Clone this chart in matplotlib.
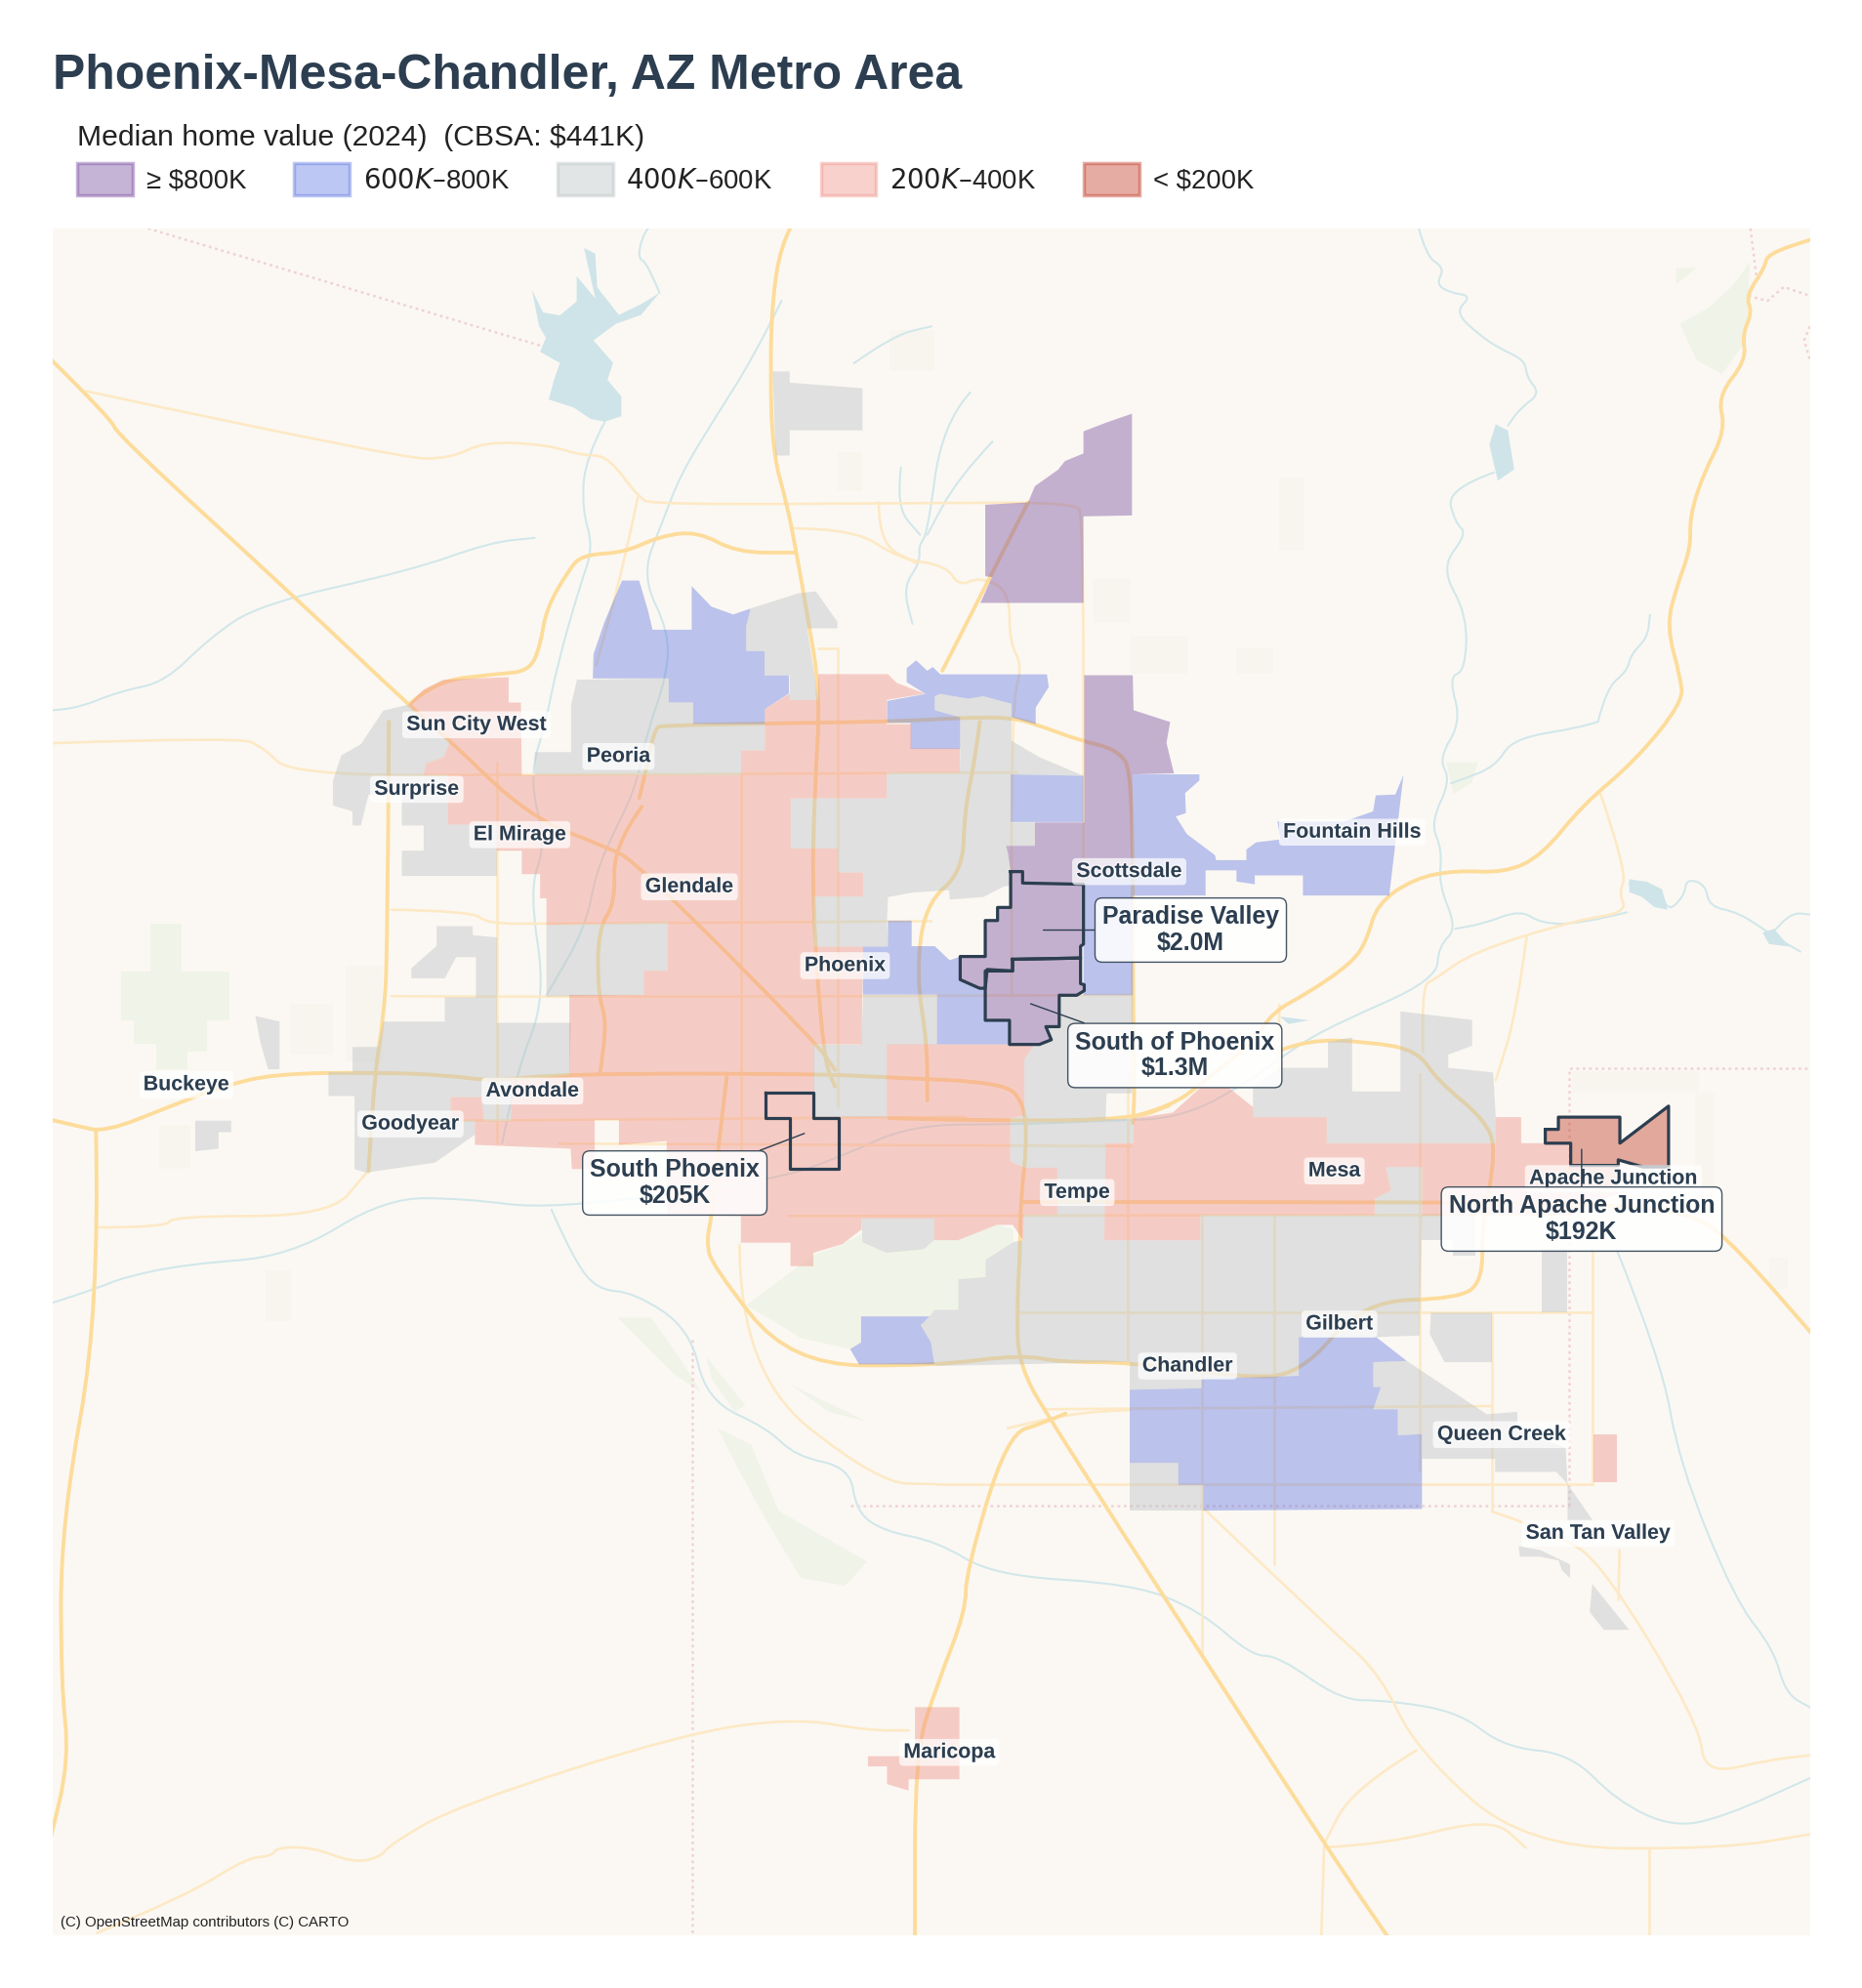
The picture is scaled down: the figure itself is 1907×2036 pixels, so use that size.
import matplotlib
matplotlib.use("Agg")
import matplotlib.pyplot as plt
from matplotlib.patches import Patch, PathPatch
from matplotlib.path import Path
import matplotlib.patheffects as pe

plt.rcParams['font.family'] = ['Liberation Sans', 'DejaVu Sans']

TITLE = "Phoenix-Mesa-Chandler, AZ Metro Area"
LEGEND_TITLE = "Median home value (2024)  (CBSA: $441K)"
CLASS_LABELS = ["≥ $800K", "$600K–$800K", "$400K–$600K", "$200K–$400K", "< $200K"]
CLASS_COLORS = ["#71449B", "#5B73E1", "#B7BEC1", "#EE8C82", "#BF301A"]
INK = "#2C3E50"
BG = "#FBF8F3"

PURPLE = [
    [(775.3,397.4),(809,395.5),(814.4,382.7),(832.6,369.8),(838,363),(852.6,357),(852.6,339.6),(871.7,332.3),(890.8,325.7),(890.8,405.8),(852.6,406.5),(852.6,474.6),(771.5,474.6),(780.6,454.3),(775.3,453.6)],
    [(853.2,531.5),(891.4,531.5),(892,559),(920.8,568.3),(917.9,584.8),(923.8,608.7),(891.4,609.5),(891.4,686),(862,686),(852.6,696),(804.7,695),(804.7,686),(795.3,686),(793,671),(791.5,665.7),(814.4,665.7),(814.4,647.3),(853.2,647.3)],
]
PARADISE_VALLEY = [(795.3,686),(804.7,686),(804.7,695),(852.6,696),(852.6,743),(850.3,744.8),(850.3,754),(796.8,755),(796.8,764.2),(776.8,763),(775.3,777.8),(770.9,777.8),(755.6,771),(755.6,752.8),(775.3,752.8),(775.3,724.5),(785,724.5),(785,714.2),(795.3,714.2)]
SOUTH_OF_PHOENIX = [(796.8,755),(850.3,754),(850.3,774.2),(853.2,775),(853.2,779.7),(847.3,783.3),(833.5,783.3),(833.5,808),(823,808),(827.3,818.3),(817.9,822),(794.4,822),(794.4,803),(775.3,803),(775.3,764.2),(796.8,764.2)]
SOUTH_PHOENIX = [(602,860),(640.4,860),(640.4,879.5),(660,879.5),(660,920),(621.5,920),(621.5,879.5),(602,879.5)]
NORTH_APACHE = [(1216,888.8),(1226.3,888.8),(1226.3,879.2),(1274.7,879.2),(1274.7,899.7),(1313,870.5),(1313,918.4),(1293,918.4),(1273.4,912.8),(1273.4,917.2),(1236,917.2),(1236,899.7),(1216,899.7)]

BLUE = [
    [(489.5,457),(503,457),(510,481),(513.5,495.7),(544.3,495.7),(544.3,461.4),(559.8,477.5),(577,483.7),(590.7,479),(587.2,493),(587.2,512.5),(601.6,512.5),(601.6,531.7),(620.8,531.7),(620.8,546),(602,558),(602,570),(545.4,570),(545.4,553),(526.2,553),(526.2,534),(466.5,534),(467,515),(475.7,489.5)],
    [(713.5,526),(720.9,519.8),(729.7,528),(734,525),(740,530.8),(823.8,530.8),(825.3,540.7),(815,557),(815,570),(795.9,564.6),(795.9,554),(773.8,548),(762,550),(740,546.2),(735.6,548),(735.6,559),(755.6,564.6),(755.6,589.6),(716.5,589.6),(716.5,569),(698,569),(698,551.8),(728.3,546.2),(713.5,537)],
    [(795.3,609.5),(852.6,610.6),(852.6,647),(795.3,647)],
    [(891.4,609.5),(943.8,609.5),(943.8,614.3),(932.6,624.2),(933.2,640),(925.2,642.6),(934,656.5),(956,673),(957,677),(980.8,677),(980.8,668.6),(988.4,663),(1007.6,660.7),(1005.2,646.6),(1057.7,646.6),(1080.5,638.6),(1082.6,626),(1098,625.4),(1104.4,610),(1093.2,704.8),(1025.3,704.8),(1025.3,689),(987.4,689),(987.4,696),(973,693.8),(973,685),(948.7,685),(948.7,704.8),(891.4,705),(891.4,783.3),(852.6,783.3),(852.6,696),(862,686),(891.4,686)],
    [(679,745),(698.7,745),(698.7,724.6),(717.4,724.6),(717.4,744.7),(735.6,744.7),(747.4,755.8),(755.6,752.8),(755.6,771),(775.3,778),(775.3,803),(794.4,803),(794.4,822),(737.4,822),(737.4,782.8),(679,782.8)],
    [(677.6,1036),(731.5,1036),(724.5,1042.8),(732.6,1056.5),(735.3,1073.7),(676,1073.7),(669,1061.7),(677.6,1056.5)],
    [(1022,1052.3),(1083,1052.3),(1107,1071),(1080.7,1072),(1080.7,1091.5),(1086.7,1091.5),(1080.7,1109),(1100,1109),(1100,1129.5),(1119,1128.6),(1119,1187.5),(947,1188.8),(947,1168.7),(927.3,1168.7),(927.3,1151.2),(889,1151.2),(889,1093.7),(945.6,1092.5),(945.6,1085),(1022,1082.7)],
]

GRAY = [
    [(608,292.5),(621.4,292.5),(621.4,301.3),(678.7,305.7),(678.7,338.8),(621.4,338.8),(621.4,358.6),(610.4,358.6)],
    [(590.7,479),(628.4,467),(642,465.5),(659,489.5),(659,494.6),(635.2,494.6),(643.8,551),(621.5,551),(621.5,531.7),(601.6,531.7),(601.6,512.5),(587.2,512.5),(587.2,493)],
    [(454,535),(526.2,534),(526.2,553),(545.4,553),(545.4,570),(602,570),(602,590.7),(583.1,590.7),(583.1,610),(420.8,610),(420.8,592),(449.4,592),(449.4,555)],
    [(321.4,554.7),(344,577),(354,584),(349,596),(335,601),(333.4,610),(352.6,610),(352.6,649),(391,649),(391,689.4),(316.2,689.4),(316.2,669.5),(333.4,669.5),(333.4,649.7),(316.2,649.7),(316.2,625.4),(290,625.4),(284,649.7),(277.4,649.7),(277.4,638.6),(262,634),(262,614.4),(268.6,594.5),(284,585.7),(301.7,559.3)],
    [(622.2,628.4),(697.7,628.4),(697.7,608),(755.3,608),(755.6,589.6),(755.6,564.6),(735.6,559),(735.6,548),(740,546.2),(762,550),(773.8,548),(795.9,554),(795.9,564.6),(795.9,583),(818,596),(852.6,610.6),(795.3,609.5),(795.3,647.3),(814.4,647.3),(814.4,665.7),(791.5,665.7),(793,671),(795.3,686),(795.3,697),(790,697.7),(773.8,706),(747.4,708),(746.8,700.6),(718,702.5),(698.8,706),(698,724.6),(698.7,745),(640.4,745),(640.4,705.6),(679.1,705.6),(679.1,686.7),(659.3,686.7),(659.3,667.8),(622.2,667.8)],
    [(679,782.8),(737.4,782.8),(737.4,822),(697.7,822),(697.7,878.8),(640.4,878.8),(640.4,822),(678,822)],
    [(430,727.9),(525.5,726),(525.5,764),(506.6,764),(506.6,783),(430,784.4)],
    [(343.6,729),(372,729),(372,736),(391.2,737.8),(391.2,785),(374.5,785),(374.5,753.3),(359,753.3),(350,770),(323.7,770),(323.7,762),(343.6,744.5)],
    [(350,785),(391,785),(391,805),(449.4,805),(448,846),(402,851),(402,882),(381,882),(379,863.5),(354.5,863.5),(354.5,882),(373.7,882),(373.7,893),(342.3,915),(288,922.8),(279,920.2),(279,862.6),(258.5,862.6),(258.5,843.7),(277.4,843.7),(277.4,824),(297.3,824),(301.7,804),(350,804)],
    [(153.6,882),(181.9,882),(181.9,891),(172,891),(172,904),(153.6,906)],
    [(201,799.6),(220,804),(220,841.5),(211,841.5),(204.7,819.5)],
    [(806,834),(813.9,822),(817.9,822),(827.3,818.3),(823,808),(833.5,808),(833.5,783.3),(891.4,783.3),(890.8,860.5),(870.8,860.5),(870,880.6),(892,880.6),(892,899.7),(870,899.7),(869,976),(944.6,976),(944.6,956.3),(1081.7,956.3),(1081.7,943.3),(1094.6,936.8),(1090.6,918.4),(1119,918.4),(1119,956.3),(1117,1051),(1083,1052.3),(1022,1052.3),(1022,1082.7),(945.6,1085),(945.6,1092.5),(889,1093.7),(889,1071.7),(737.6,1075),(735.3,1073.7),(732.6,1056.5),(724.5,1042.8),(731.5,1036),(735.5,1030.8),(754.2,1030.8),(754.2,1006.8),(775.7,1005),(775.7,991.4),(797.3,977.6),(805,976),(806,956),(832,956),(832,919),(806,919),(795,914),(795,880),(806,878)],
    [(986,879.2),(986,856),(1007.5,840.4),(1045,840.4),(1045,820),(1064,816.4),(1064,859),(1102,859),(1102,796),(1158.4,802.7),(1158.4,823),(1139.6,830),(1139.6,840.4),(1175,844),(1177,879.2),(1177,899.7),(1044,899.7),(1044,879.2)],
    [(1119,956.3),(1161,956.3),(1161,988.5),(1143,988.5),(1143,975.6),(1119,975.6)],
    [(1213,983),(1233,983),(1233,1033),(1213,1033)],
    [(1126,1033),(1174,1033),(1174,1072),(1136.7,1072),(1125.2,1050)],
    [(1107,1071),(1170,1113),(1194,1111),(1194,1125),(1232,1139.4),(1233.5,1167.8),(1253.5,1196.6),(1233.5,1196.6),(1233.5,1167.8),(1224.7,1158.3),(1176.5,1158.3),(1176.5,1148),(1119,1148),(1119,1128.6),(1100,1129.5),(1100,1109),(1080.7,1109),(1086.7,1091.5),(1080.7,1091.5),(1080.7,1072)],
    [(889,1151.2),(927.3,1151.2),(927.3,1168.7),(947,1168.7),(947,1188.8),(889,1188.8)],
    [(1195,1216.7),(1212.5,1220),(1235.5,1231),(1235.5,1242),(1229,1235.5),(1226.5,1228),(1211.7,1225),(1196,1225)],
    [(1253,1246.5),(1282,1282.6),(1262,1282.6),(1251,1268.4)],
    [(678,959),(735,959),(735,976),(727,983),(697.6,986),(678.7,977.6)],
]

PINK = [
    [(321.4,554.7),(333.4,542.7),(348.8,535),(400.3,533),(400.3,553),(409.9,553),(410.6,610),(583.1,610),(583.1,590.7),(602,590.7),(602,558),(621.5,546),(621.5,551),(643.8,551),(643.8,530.6),(698.7,530.6),(705.6,537.5),(727.9,546),(697.7,551),(697.7,570),(716.9,570),(716.9,589),(755.3,589),(755.3,608),(697.7,608),(697.7,628.4),(622.2,628.4),(622.2,667.8),(659.3,667.8),(659.3,686.7),(679.1,686.7),(679.1,705.6),(640.4,705.6),(640.4,745),(679.1,745),(678,822),(640.4,822),(640.4,878.8),(697.7,878.8),(697.7,822),(813.9,822),(806,834),(806,878),(795,880),(795,914),(806,919),(832,919),(832,956),(806,956),(805,976),(797,964),(784,964),(754,976),(735,976),(735,959),(678,959),(678,967.5),(663,979),(640,986),(640,996.5),(622,996.5),(622,978),(583,978),(583,957),(525,956),(524.6,898),(487,901),(487,881.4),(468,881.4),(468,920),(450,920),(449,904),(373.7,901),(373.7,882),(354.5,882),(354.5,863.5),(379,863.5),(381,882),(402,882),(402,851),(448,846),(448,783),(506.6,783),(506.6,764),(525.5,764),(525.5,726),(430,727.9),(430,707),(425,707),(425,688),(410.6,688),(410.6,669.6),(391,669.6),(391,649),(352.6,649),(352.6,610),(333.4,610),(335,601),(349,596),(354,584),(344,577)],
    [(870,899.7),(892,899.7),(892,880),(922.7,875.7),(944.6,856),(967,856),(986,871.3),(986,879.2),(1044,879.2),(1044,899.7),(1177,899.7),(1177,879.2),(1197,879.2),(1197,899.7),(1236,899.7),(1236,917.2),(1273.4,917.2),(1273.4,939),(1236,956.3),(1119,956.3),(1119,918.4),(1090.6,918.4),(1094.6,936.8),(1081.7,943.3),(1081.7,956.3),(944.6,956.3),(944.6,976),(869,976)],
    [(720,1343.4),(755,1343.4),(755,1400.2),(715,1400.2),(715,1409),(698,1404),(698,1390),(683,1390),(683,1382),(720,1382)],
    [(1253.6,1129),(1272.6,1129),(1272.6,1166.8),(1253.6,1166.8)],
]

RED = [NORTH_APACHE]

LAKES = [
    [(418.6,228.5),(427.4,246),(440.6,248.4),(453.8,237.3),(453.8,217.5),(468.4,235),(459.6,195.4),(468.4,199.8),(470,226.3),(480.3,239.5),(487,248),(504.5,239.5),(519,230.7),(504.5,248),(484.7,255),(467,268),(482.5,285.8),(478,299),(489,312.3),(489,327.7),(476,332),(465,330),(451.6,321),(431.8,314.5),(436,299),(440.6,285.8),(425,277),(429.6,266),(424.3,257)],
    [(1177,334),(1186.6,339),(1191.6,369.6),(1178.6,378.5),(1172,350)],
    [(1282,692),(1296,694),(1308,700),(1312,716),(1302,714),(1292,706),(1282,702)],
    [(1387,734),(1396,731),(1408,745),(1392,743)],
    [(1007,800),(1030,803),(1014,806)],
]

GREEN = [
    [(118.7,726.8),(143,726.8),(143,764.3),(180.4,764.3),(180.4,802.7),(162.8,802.7),(162.8,827.4),(147.3,827.4),(147.3,841.5),(123,841.5),(123,821.7),(105.4,821.7),(105.4,802.7),(95.3,802.7),(95.3,764.3),(118.7,764.3)],
    [(640,988),(662.5,979.3),(678.7,970.8),(678.7,977.6),(697.6,986.2),(727.2,982.8),(735.3,976),(754.2,976),(783.8,964),(797.3,967.3),(797.3,977.6),(775.7,991.4),(775.7,1005),(754.2,1006.8),(754.2,1030.8),(735.3,1030.8),(731.5,1036),(677.6,1036),(677.6,1056.5),(669,1061.7),(630,1053),(608.6,1039.4),(587,1027.4)],
    [(1322,255),(1345,242),(1364.5,224),(1377,206),(1374,268),(1355,294.7),(1335,283.6)],
    [(1319,211),(1335,211),(1319,224)],
    [(486,1037),(512.4,1037),(534.4,1068),(551.6,1095.5),(530,1081)],
    [(564.7,1124),(591,1137),(612.7,1189),(682.4,1229),(665,1248),(630,1241.6),(604,1198),(582,1158)],
    [(556,1068),(586.5,1106),(578,1111),(560,1085)],
    [(621.4,1089),(682.4,1119),(652,1111)],
    [(1138,600),(1163,600),(1158,616),(1144,625)],
]

BEIGE = [
    [(1006.8,376),(1026.3,376),(1026.3,433.6),(1006.8,433.6)],
    [(972.5,510.7),(1002,510.7),(1002,530.6),(972.5,530.6)],
    [(659,356),(678.7,356),(678.7,387),(659,387)],
    [(700,260),(735,260),(735,292),(700,292)],
    [(209,1000),(229,1000),(229,1040),(209,1040)],
    [(1334,860),(1349,860),(1349,960),(1334,960)],
    [(1237,843),(1337,843),(1337,860),(1237,860)],
    [(1392,990),(1407,990),(1407,1014),(1392,1014)],
    [(272,760),(301,760),(301,835),(272,835)],
    [(228,790),(262,790),(262,830),(228,830)],
    [(890,500),(935,500),(935,530),(890,530)],
    [(860,455),(890,455),(890,490),(860,490)],
    [(125,885),(150,885),(150,920),(125,920)],
]

MAJOR_ROADS = [
    [(622.7,178),(614.8,193),(608,233),(606,290),(608,356),(619,396),(626,431),(634.6,480),(645.7,546),(641,621),(639,709),(648,833),(657,855)],
    [(39,282),(87.8,330),(92,342),(231,469),(321.5,555),(350,579),(416.4,643),(478,667),(500,678),(641.3,819.5),(657,842)],
    [(321.5,555),(341.4,536.3),(389.9,530.6),(416.4,528.4),(425.2,508.5),(429.6,479.9),(447.2,449),(458.2,436.7),(491.3,435),(517.8,422.6),(548.7,418),(579.5,435),(625.8,435)],
    [(306,568),(305,753),(301.7,802),(295,844),(290,922)],
    [(39,881),(60,886),(83,891),(133,871),(175,855),(216,845),(295,844),(350,846),(388,851),(443,845),(640,845),(700,848),(790,852),(806,868),(808,900),(803,947),(803,977),(800,1036),(802,1074),(824.5,1115.4),(1042,1451),(1092,1524)],
    [(503,628),(506.6,615),(515,573),(522,571),(608,569.4),(697,568),(729.7,566.5),(768,564.6),(796,565),(815,570),(850,583),(879.7,590),(891.4,608.7),(891.4,783),(893,858.7),(891.4,883.7)],
    [(505,635),(482.6,666),(484.3,710.7),(470.6,731),(470.6,783),(477.5,803.3),(472.3,844.5)],
    [(771,568),(768,594),(759,638),(757.6,686),(728,711.7),(721,767),(729.7,822),(729.7,866)],
    [(894,878),(921,871),(948,851),(986,820),(1002,796),(1028.6,782),(1064,757.7),(1075.6,740),(1083.5,711.4),(1112.5,691.6),(1145,685),(1183.5,687),(1212.7,674),(1245,634),(1286.6,599),(1324.3,552.6),(1322.3,533),(1311.4,493),(1319.3,462),(1330.6,431),(1329.6,407),(1340,374),(1358,338.8),(1351.6,312),(1374.2,283.6),(1371,263.8),(1378.8,246),(1373.8,233),(1388.7,211),(1390.6,200),(1427,188)],
    [(804,946),(1181,946),(1255,947.6),(1334,954.2),(1369,984.6),(1427,1051)],
    [(700,880),(795,882.6),(893,880.4),(920,870)],
    [(1007.5,826.7),(1029,818),(1077.6,820),(1115.3,826.7),(1131.5,850.7),(1169,881.6),(1177.3,905.6),(1166.5,964),(1166.5,1008.5),(1147.6,1022),(1072,1024),(1023.7,1082),(975.2,1084),(889,1072),(835,1072),(802.7,1066),(735,1075),(622,1074),(560,995.6),(556,976),(560,958),(565,905),(572,847)],
    [(75.5,891),(78.6,1031),(48,1199),(48,1325),(54.6,1384.6),(39,1450)],
    [(838.5,1112.4),(821,1120),(792.6,1128.6),(760,1237.5),(760,1267.6),(737.6,1325),(720,1380),(720,1526)],
    [(809,395.5),(741.5,528)],
]

MINOR_ROADS = [
    [(68,308),(315,361),(354.6,361),(381,347.6),(429.6,350),(458,358.6),(478,358.6),(502,391),(513.4,397.4),(733,396),(845.8,395.5),(852.6,406.5),(852.6,675)],
    [(502,391),(491,444.6),(469,524)],
    [(39,585),(187,580),(207,588),(229,610),(420.8,610),(800,608)],
    [(308,716),(372,717),(383,727),(430,727),(733,725)],
    [(308,784),(449.4,785),(890,783)],
    [(391,600),(391,900)],
    [(583,610),(583,950)],
    [(659,510.7),(659,871)],
    [(643.5,510.7),(659,510.7)],
    [(760,879),(355,882)],
    [(440,900),(890,902)],
    [(620,957),(1236,956)],
    [(802,1032.7),(1117,1032.7)],
    [(824,1109),(1174,1106.5)],
    [(737.6,1168),(1253.5,1168)],
    [(887.6,845),(887.6,1073)],
    [(945.6,956),(945.6,1303)],
    [(1003,956),(1003,1231)],
    [(1117,845),(1117,1157)],
    [(1174,1033),(1174,1189.5)],
    [(1253.5,983),(1253.5,1168)],
    [(1117,1032.7),(1253.5,1032.7)],
    [(1174,1189.5),(1227,1207),(1262.5,1233),(1337,1356.5),(1341.5,1396.5),(1391,1385),(1427,1381)],
    [(945,1185),(1046.3,1281.7),(1085.7,1316.5),(1114.6,1377.4),(1200.7,1454),(1355,1455),(1427,1443)],
    [(1114.6,1377.4),(1064,1408),(1042,1451)],
    [(1042,1453.7),(1090.7,1451.5),(1174,1430),(1200.7,1454)],
    [(1042,1453),(1039.7,1525)],
    [(1298,1454),(1298,1525)],
    [(1274.5,1220),(1273.5,1259)],
    [(793,1124),(838.5,1112.5),(889,1109.5)],
    [(76.4,1521),(146,1492.3),(194,1462),(213.7,1460.7),(218,1453.7),(246.4,1453.7),(277,1465.6),(298.7,1462),(307.5,1451),(360,1420.8),(538.5,1364),(625.7,1351.8),(682.4,1361.7),(715,1361.7)],
    [(76,966),(131,966),(135.3,957),(259.5,957),(288,923.5)],
    [(582,979.5),(582,1080),(691,1167),(737,1168)],
    [(1259.5,625),(1280.7,687),(1273.7,702.6),(1280.7,718),(1238.6,724.6),(1159.4,749),(1128.7,771),(1119.7,775),(1119.7,828)],
    [(1201.4,736.5),(1193.5,797.4),(1177,850)],
    [(1006.8,790.8),(1006,842)],
    [(623.6,416),(672,416),(707.4,440),(744.4,445),(754.7,461.7),(771,454),(794.4,465),(794.4,506),(804.7,524),(796,553.6),(796,784)],
    [(691.5,395.5),(691.5,428),(721,443.3)],
]

RIVERS = [
    [(476,332),(460.5,361),(458,400.5),(467,431),(456,462),(438.4,524),(429.6,568),(416.4,612),(429.6,665),(416.4,700),(429.6,784),(407.5,841.5),(395,900)],
    [(615,237),(593,281.4),(562,330),(535.4,374),(522,409),(504.6,453),(526.6,497.5),(524.4,533),(509,577),(500,621),(482.5,656),(469,687),(460.5,731),(429.6,784)],
    [(39,559),(57,559),(94.4,544),(129.7,537),(165,502),(204.7,475.5),(323.7,449),(385.5,427),(420.8,423.4)],
    [(672,286),(703,264),(733,257)],
    [(763.5,309),(741.5,333),(729.7,421),(723,429),(724,443),(710.6,462),(718,491)],
    [(781,347.7),(753,377.2),(729.7,421)],
    [(709,368),(705,399),(724,421)],
    [(519,230.7),(509,206.5),(502.3,204),(504.5,188.8),(511,178)],
    [(1116,178),(1122,202),(1137,211),(1130,224),(1141.7,230.7),(1158,233),(1145,246),(1164,263.8),(1180.6,274.8),(1200,283.6),(1201.4,297),(1212,310),(1196.6,321),(1186.6,335)],
    [(1175.7,372),(1138.4,385),(1145,411.5),(1154.6,420),(1133.6,447),(1154.6,484),(1153,528),(1140,533),(1150,568),(1132,597),(1141.7,614.4),(1125.6,647.5),(1135,669.5),(1132,696),(1146.6,731),(1132,744.5),(1130.4,771),(1051,806),(1019,824),(985,850),(930,880),(870,882),(800,885),(717,885),(660.6,911),(608.3,929),(434,952),(364,943),(303,943),(229,988.6),(146,995),(98,1005),(76,1014),(39,1026)],
    [(434,952),(449,986.5),(469,1015),(499,1017),(543,1046),(556,1102),(604,1124),(626,1146),(669,1155),(673.7,1189.5),(695.5,1205),(737.6,1213),(782,1240),(892,1246.4),(945,1268),(984.7,1303),(1006,1303),(1055,1338),(1090.7,1338),(1147.7,1347),(1183.6,1375),(1236,1380),(1272,1417),(1316,1438),(1356,1430),(1427,1398)],
    [(1272,983),(1307.6,1071),(1321,1150),(1365,1259),(1396,1298),(1405,1333),(1427,1345)],
    [(1282,696),(1306,698),(1312.6,718),(1325.6,704.6),(1327,691.6),(1342,696),(1345,713.6),(1368,718),(1394,735.7),(1416.7,749)],
    [(1394,735.7),(1407,718),(1427,720)],
    [(1280.3,718),(1244.6,727),(1212.7,727),(1196.5,716),(1167.5,727),(1145,731)],
    [(1257.5,568),(1245,572.5),(1190,581.3),(1177,603.4),(1148,614.4),(1141.7,616.6)],
    [(1257.5,568),(1264,541.6),(1280.4,528.4),(1283.4,515),(1296.4,502),(1298.4,484)],
]

BOUNDARIES = [
    [(116.5,180),(434,274.8)],
    [(545,1054),(545,1525)],
    [(669,1185),(1234.5,1185)],
    [(1234.5,1185),(1234.5,841),(1425,841)],
    [(1377.5,180),(1382.3,219.7),(1375.8,233),(1390.8,237),(1403.7,226),(1424.3,233)],
    [(1424.3,257),(1419.7,268),(1424.3,283.6)],
]

CITIES = [
    ("Sun City West",375,570.5),("Peoria",486.7,595.4),("Surprise",328,621.3),("El Mirage",409,657),
    ("Glendale",542.5,698),("Scottsdale",888.6,686),("Fountain Hills",1064,655),("Phoenix",665,760),
    ("Avondale",419,858.7),("Goodyear",323,884.6),("Buckeye",146.6,853.7),("Tempe",847.7,938.5),
    ("Mesa",1050,921.5),("Apache Junction",1269.6,927.5),("Gilbert",1054,1042),("Chandler",934.5,1075),
    ("Queen Creek",1181.8,1129),("San Tan Valley",1257.6,1206.7),("Maricopa",747,1379),
]

CALLOUTS = [
    ("Paradise Valley\n$2.0M",(821,732),(937,732)),
    ("South of Phoenix\n$1.3M",(811,790),(924.5,830.7)),
    ("South Phoenix\n$205K",(633,892),(531,931)),
    ("North Apache Junction\n$192K",(1244.6,904.5),(1244.6,959.4)),
]

W, H = 1908, 2036
fig = plt.figure(figsize=(W/100, H/100), dpi=100, facecolor="white")
ax = fig.add_axes([54/W, (H-1982)/H, (1854-54)/W, (1982-234)/H])
ax.set_xlim(41.5, 1424.5)
ax.set_ylim(1522.9, 180)
ax.set_facecolor(BG)
ax.set_xticks([]); ax.set_yticks([])
for s in ax.spines.values():
    s.set_visible(False)


def fill_all(polys, color, alpha=1.0, z=1):
    for p in polys:
        xs, ys = zip(*p)
        ax.fill(xs, ys, facecolor=color, edgecolor="none", alpha=alpha, zorder=z)


def curve(points):
    verts = [points[0]]
    codes = [Path.MOVETO]
    for a, b in zip(points[1:-1], points[2:]):
        verts += [a, ((a[0]+b[0])/2, (a[1]+b[1])/2)]
        codes += [Path.CURVE3, Path.CURVE3]
    verts.append(points[-1])
    codes.append(Path.LINETO)
    return Path(verts, codes)


def lines_all(paths, color, lw, z):
    for p in paths:
        ax.add_patch(PathPatch(curve(p), fill=False, edgecolor=color, lw=lw, zorder=z,
                               capstyle="round", joinstyle="round"))


fill_all(BEIGE, "#F8F5EE", z=1)
fill_all(GREEN, "#F0F3E7", z=1)
for p in BOUNDARIES:
    xs, ys = zip(*p)
    ax.plot(xs, ys, color="#F0D2D2", lw=1.8, zorder=1.5, linestyle=(0, (1.1, 1.5)))
lines_all(RIVERS, "#D2E7EA", 1.5, 2)
fill_all(LAKES, "#CFE4E9", z=2)
lines_all(MINOR_ROADS, "#FDE9C5", 1.9, 3)
lines_all(MAJOR_ROADS, "#FDDC9B", 2.8, 4)

for polys, color in zip([PURPLE + [PARADISE_VALLEY, SOUTH_OF_PHOENIX], BLUE, GRAY, PINK, RED], CLASS_COLORS):
    fill_all(polys, color, alpha=0.4, z=5)

for outline in [PARADISE_VALLEY, SOUTH_OF_PHOENIX, SOUTH_PHOENIX, NORTH_APACHE]:
    xs, ys = zip(*(outline + outline[:1]))
    ax.plot(xs, ys, color=INK, lw=2.3, zorder=6, solid_joinstyle="round")

for name, x, y in CITIES:
    ax.text(x, y, name, ha="center", va="center", fontsize=15.4, fontweight="bold", color=INK, zorder=7,
            bbox=dict(boxstyle="round,pad=0.2", facecolor="white", edgecolor="none", alpha=0.72),
            path_effects=[pe.withStroke(linewidth=2, foreground="white", alpha=0.7)])

for label, xy, xytext in CALLOUTS:
    ax.annotate(label, xy=xy, xytext=xytext, ha="center", va="center", fontsize=17.9, fontweight="bold",
                color=INK, linespacing=1.15, zorder=8,
                bbox=dict(boxstyle="round,pad=0.3", facecolor="white", edgecolor=INK, linewidth=1.0, alpha=0.88),
                arrowprops=dict(arrowstyle="-", color=INK, lw=1.0, shrinkA=0, shrinkB=0))

ax.text(48, 1513, "(C) OpenStreetMap contributors (C) CARTO", fontsize=10.8, color="#222222",
        ha="left", va="center", zorder=9)

fig.text(54/W, 1-91/H, TITLE, fontsize=35.9, fontweight="bold", color=INK, ha="left", va="baseline")

handles = [Patch(facecolor=c, edgecolor=c, alpha=0.4, linewidth=2.5) for c in CLASS_COLORS]
leg = fig.legend(handles, CLASS_LABELS, title=LEGEND_TITLE, ncol=5, frameon=False,
                 loc="lower left", bbox_to_anchor=(79/W, 1-200/H), bbox_transform=fig.transFigure,
                 fontsize=19.8, title_fontsize=21.7, alignment="left", borderpad=0, borderaxespad=0,
                 handlelength=2.07, handleheight=1.45, handletextpad=0.5, columnspacing=1.78,
                 labelspacing=0.45, labelcolor="#222222")
leg.get_title().set_color("#222222")

fig.savefig("out.png", dpi=100, facecolor="white")
